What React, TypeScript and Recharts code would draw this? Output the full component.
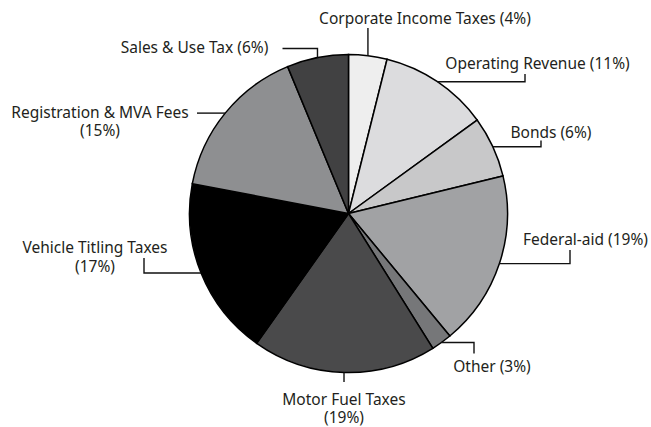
import React from "react";
import { PieChart, Pie, Cell } from "recharts";

const categories = [
  "Corporate Income Taxes",
  "Operating Revenue",
  "Bonds",
  "Federal-aid",
  "Other",
  "Motor Fuel Taxes",
  "Vehicle Titling Taxes",
  "Registration & MVA Fees",
  "Sales & Use Tax",
];
const shares = [3.9, 11.1, 6.2, 17.8, 2.1, 18.7, 18.2, 15.75, 6.25];
const percentLabels = ["4%", "11%", "6%", "19%", "3%", "19%", "17%", "15%", "6%"];

const colors = ["#eeeeee", "#dcdcde", "#c8c8c9", "#a1a2a4", "#767779", "#4a4a4b", "#000000", "#8e8f91", "#414142"];

const data = categories.map((name, i) => ({ name, value: shares[i] }));

const CX = 348.5;
const CY = 213.5;
const R = 159;
const FONT = "'Noto Sans', 'Open Sans', sans-serif";
const FS = 15.5;
const TEXT_COLOR = "#231f20";

type Layout = {
  path: (ex: number, ey: number, cx: number, cy: number) => string;
  x: (cx: number) => number;
  y: (cy: number) => number;
  lines: string[];
  gap?: number;
};

const layouts: Layout[] = [
  {
    path: (ex, ey, cx, cy) => `M${ex},${ey} L${ex},${cy - 185.5}`,
    x: (cx) => cx + 76.5,
    y: (cy) => cy - 189.5,
    lines: [`${categories[0]} (${percentLabels[0]})`],
  },
  {
    path: (ex, ey, cx, cy) => `M${ex},${ey} L${cx + 176.5},${ey} L${cx + 176.5},${cy - 139.5}`,
    x: (cx) => cx + 189,
    y: (cy) => cy - 144.5,
    lines: [`${categories[1]} (${percentLabels[1]})`],
  },
  {
    path: (ex, ey, cx, cy) => `M${ex},${ey} L${cx + 192.5},${ey} L${cx + 192.5},${cy - 73}`,
    x: (cx) => cx + 202.5,
    y: (cy) => cy - 75.5,
    lines: [`${categories[2]} (${percentLabels[2]})`],
  },
  {
    path: (ex, ey, cx, cy) => `M${ex},${ey} L${cx + 221.5},${ey} L${cx + 221.5},${cy + 36.5}`,
    x: (cx) => cx + 237,
    y: (cy) => cy + 31.5,
    lines: [`${categories[3]} (${percentLabels[3]})`],
  },
  {
    path: (ex, ey, cx, cy) => `M${ex},${ey} L${cx + 125.5},${ey} L${cx + 125.5},${cy + 140}`,
    x: (cx) => cx + 143.5,
    y: (cy) => cy + 158.5,
    lines: [`${categories[4]} (${percentLabels[4]})`],
  },
  {
    path: (ex, ey, cx, cy) => `M${ex},${ey} L${ex},${cy + 168.5}`,
    x: (cx) => cx - 4.5,
    y: (cy) => cy + 191,
    lines: [categories[5], `(${percentLabels[5]})`],
    gap: 18,
  },
  {
    path: (ex, ey, cx, cy) => `M${ex},${ey} L${cx - 204.5},${ey} L${cx - 204.5},${cy + 44.5}`,
    x: (cx) => cx - 253.5,
    y: (cy) => cy + 39.5,
    lines: [categories[6], `(${percentLabels[6]})`],
    gap: 18.5,
  },
  {
    path: (ex, ey, cx, cy) => `M${ex},${ey} L${cx - 151.5},${ey}`,
    x: (cx) => cx - 248.5,
    y: (cy) => cy - 95.5,
    lines: [categories[7], `(${percentLabels[7]})`],
    gap: 18,
  },
  {
    path: (ex, ey, cx, cy) => `M${ex},${ey} L${ex},${cy - 165} L${cx - 66},${cy - 165}`,
    x: (cx) => cx - 154,
    y: (cy) => cy - 160.5,
    lines: [`${categories[8]} (${percentLabels[8]})`],
  },
];

const RADIAN = Math.PI / 180;

const renderLabel = (props: any) => {
  const { cx, cy, midAngle, outerRadius, index } = props;
  const ex = cx + outerRadius * Math.cos(-midAngle * RADIAN);
  const ey = cy + outerRadius * Math.sin(-midAngle * RADIAN);
  const lay = layouts[index];
  const tx = lay.x(cx);
  const ty = lay.y(cy);
  return (
    <g key={`lbl-${index}`}>
      <path d={lay.path(ex, ey, cx, cy)} stroke="#111" strokeWidth={1.4} fill="none" />
      <text
        x={tx}
        y={ty}
        textAnchor="middle"
        fill={TEXT_COLOR}
        fontFamily={FONT}
        fontSize={FS}
      >
        {lay.lines.map((t, j) => (
          <tspan key={j} x={tx} dy={j === 0 ? 0 : lay.gap || 18}>
            {t}
          </tspan>
        ))}
      </text>
    </g>
  );
};

export default function App() {
  return (
    <div style={{ position: "fixed", left: 0, top: 0, width: 651, height: 427, background: "#fff" }}>
      <PieChart width={651} height={427} margin={{ top: 0, right: 0, bottom: 0, left: 0 }}>
        <Pie
          data={data}
          dataKey="value"
          nameKey="name"
          cx={CX}
          cy={CY}
          outerRadius={R}
          innerRadius={0}
          startAngle={90}
          endAngle={-270}
          stroke="#000"
          strokeWidth={1.5}
          label={renderLabel}
          labelLine={false}
          isAnimationActive={false}
        >
          {data.map((d, i) => (
            <Cell key={d.name} fill={colors[i]} />
          ))}
        </Pie>
      </PieChart>
    </div>
  );
}
